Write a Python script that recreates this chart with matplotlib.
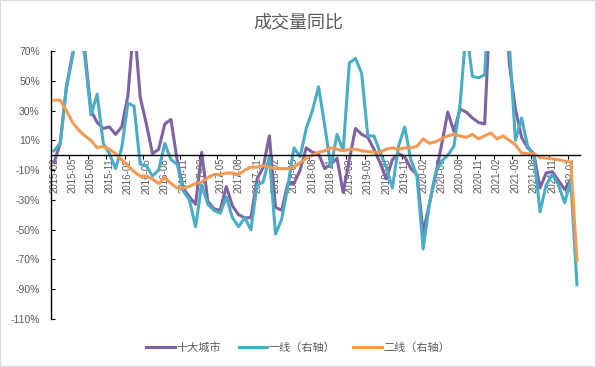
import numpy as np
import pandas as pd
import matplotlib
matplotlib.use("Agg")
from matplotlib import pyplot as plt
from matplotlib.patches import Rectangle

plt.rcParams['font.family'] = ['Liberation Sans', 'Noto Sans CJK SC']

# monthly categories 2015-02 .. 2022-03
months = list(pd.period_range('2015-02', '2022-03', freq='M').strftime('%Y-%m'))

series_names = ['十大城市', '一线（右轴）', '二线（右轴）']

# 十大城市 (last month not shown)
ten_city = [-5, 8, 46, 68, 85, 70, 30, 22, 18, 19, 14, 19,
            40, 90, 39, 21, 1, 4, 21, 24, -3, -22, -28, -33,
            2, -31, -36, -37, -21, -34, -40, -42, -42, -16, -8, 13,
            -35, -37, -19, -19, -10, 5, 2, 1, -9, -6, -2, -25,
            -3, 18, 14, 12, 4, -5, -16, -3, 1, -1, -9, -13,
            -52, -33, -14, 7, 29, 16, 31, 29, 25, 22, 21, 110,
            150, 140, 62, 31, 12, 5, 1, -22, -12, -11, -17, -23,
            -16, np.nan]

# 一线
first_tier = [3, 8, 45, 66, 90, 66, 27, 41, 8, 1, -9, 5,
              35, 33, -6, -7, -14, -10, 8, -3, -6, -24, -30, -48,
              -20, -33, -37, -39, -28, -42, -48, -42, -50, -20, -18, -1,
              -53, -43, -21, 5, -1, 18, 30, 46, 20, -8, 14, 3,
              62, 65, 55, 13, 13, 2, -8, -22, 6, 19, -3, -14,
              -63, -33, -12, -4, 0, 6, 34, 85, 53, 52, 54, 130,
              160, 130, 75, 10, 25, 6, 0, -38, -20, -13, -20, -32,
              -17, -87]

# 二线
second_tier = [37, 37, 30, 22, 17, 13, 10, 5, 6, 4, 1, -3,
               -7, -11, -14, -14, -16, -19, -15, -19, -22, -22, -21, -19,
               -18, -15, -13, -13, -12, -12, -13, -10, -8, -8, -7, -8,
               -9, -9, -9, -8, -5, -2, 0, 2, 3, 5, 4, 3,
               4, 4, 3, 2.5, 2, 2, 4, 5, 4, 5, 5, 6,
               11, 8, 9, 11, 13, 14, 13, 12, 14, 11, 13, 15,
               11, 13, 10, 7, 1.5, 1, 1, -1.5, -2, -2.5, -3, -4,
               -4.5, -71]

y_ticks = [70, 50, 30, 10, -10, -30, -50, -70, -90, -110]

colors = ['#7F63A1', '#4BACC6', '#F39A52']
gray = '#595959'

fig = plt.figure(figsize=(5.96, 3.67), dpi=100)
ax = fig.add_axes([51 / 596, 1 - 319 / 367, 529 / 596, 268 / 367])

x = np.arange(len(months))
for vals, name, c in zip([ten_city, first_tier, second_tier], series_names, colors):
    ax.plot(x, vals, color=c, lw=2.2, label=name, solid_joinstyle='round')

ax.set_xlim(-0.5, len(months) - 0.5)
ax.set_ylim(-110, 70)

ax.set_yticks(y_ticks)
ax.set_yticklabels([f'{v}%' for v in y_ticks])
ax.tick_params(axis='y', direction='in', length=3, width=0.8, pad=8,
               labelsize=7.5, labelcolor=gray)

# category labels every 3 months, tick marks between categories
ax.tick_params(axis='x', which='major', length=0, pad=2, labelsize=7,
               labelcolor=gray, labelrotation=90)
ax.tick_params(axis='x', which='minor', direction='out', length=3, width=0.8)
ax.set_xticks(x[::3])
ax.set_xticklabels(months[::3])
ax.set_xticks(np.arange(2.5, len(months), 3), minor=True)
for lab in ax.get_xticklabels():
    lab.set_rotation(90)
    lab.set_va('top')
    lab.set_ha('center')

for s in ['top', 'right']:
    ax.spines[s].set_visible(False)
ax.spines['bottom'].set_position(('data', 0))
ax.spines['left'].set_linewidth(1.0)
ax.spines['bottom'].set_linewidth(1.0)

fig.text(0.5, 0.94, '成交量同比', ha='center', va='center',
         fontsize=13, color=gray, family=['Noto Sans CJK SC'])

fig.legend(loc='center', bbox_to_anchor=(0.5, 0.052), ncol=3, frameon=False,
           fontsize=8, handlelength=2.6, handletextpad=0.1, columnspacing=1.6,
           labelcolor=gray)

fig.patches.append(Rectangle((0, 0), 1, 1, transform=fig.transFigure,
                             fill=False, edgecolor='#D9D9D9', lw=1.5))

fig.savefig('out.png', dpi=100)
